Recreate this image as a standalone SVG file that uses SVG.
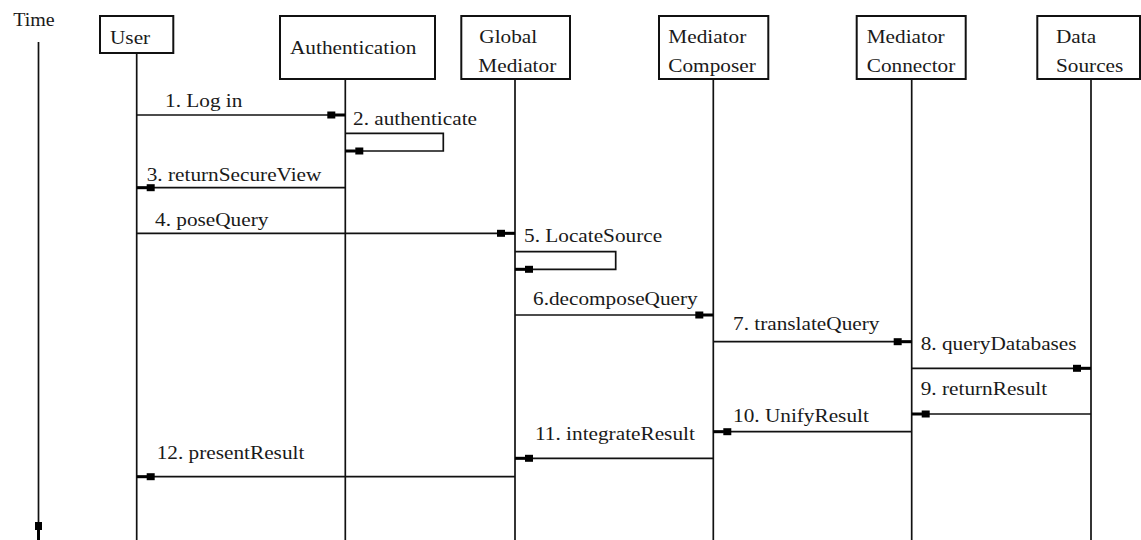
<svg xmlns="http://www.w3.org/2000/svg" width="1141" height="540" viewBox="0 0 1141 540">
  <style>
    .t { font-size: 19px; fill: #1a1a1a; }
    .box { fill: #ffffff; stroke: #111111; stroke-width: 2; }
    .life { stroke: #111111; stroke-width: 1.7; fill: none; }
    .msg { stroke: #111111; stroke-width: 1.7; fill: none; marker-end: url(#head); }
  </style>
  <defs>
    <!-- square-block arrowhead with a short thick neck -->
    <marker id="head" markerUnits="userSpaceOnUse" viewBox="-20 -5 20 10" markerWidth="20" markerHeight="10" refX="0" refY="0" orient="auto">
      <rect x="-18" y="-3.5" width="8" height="7" fill="#000000"/>
      <rect x="-10.5" y="-1.5" width="10.5" height="3" fill="#000000"/>
    </marker>
  </defs>

  <rect width="1141" height="540" fill="#ffffff"/>

  <!-- time axis -->
  <g id="time">
    <text class="t" font-family="Liberation Serif" transform="translate(13.3,26) scale(1.05,1)">Time</text>
    <line class="msg" x1="38.5" y1="42" x2="38.5" y2="540"/>
  </g>

  <!-- participants (text is widened 12% horizontally) -->
  <g id="user">
    <rect class="box" x="100" y="16" width="73.3" height="37"/>
    <line class="life" x1="136.7" y1="53" x2="136.7" y2="540"/>
    <text class="t" font-family="Liberation Serif" transform="translate(110,44.3) scale(1.12,1)">User</text>
  </g>
  <g id="authentication">
    <rect class="box" x="280" y="16" width="155" height="63"/>
    <line class="life" x1="345.3" y1="79" x2="345.3" y2="540"/>
    <text class="t" font-family="Liberation Serif" transform="translate(290,53.5) scale(1.12,1)">Authentication</text>
  </g>
  <g id="global-mediator">
    <rect class="box" x="461.3" y="16" width="108.7" height="63"/>
    <line class="life" x1="515" y1="79" x2="515" y2="540"/>
    <text class="t" font-family="Liberation Serif" transform="translate(479.3,43.3) scale(1.12,1)">Global</text>
    <text class="t" font-family="Liberation Serif" transform="translate(478.3,71.7) scale(1.12,1)">Mediator</text>
  </g>
  <g id="mediator-composer">
    <rect class="box" x="659" y="16" width="109.3" height="63"/>
    <line class="life" x1="713.3" y1="79" x2="713.3" y2="540"/>
    <text class="t" font-family="Liberation Serif" transform="translate(668.3,43.3) scale(1.12,1)">Mediator</text>
    <text class="t" font-family="Liberation Serif" transform="translate(668.3,71.7) scale(1.12,1)">Composer</text>
  </g>
  <g id="mediator-connector">
    <rect class="box" x="856.7" y="16" width="109" height="63"/>
    <line class="life" x1="911.7" y1="79" x2="911.7" y2="540"/>
    <text class="t" font-family="Liberation Serif" transform="translate(866.7,43.3) scale(1.12,1)">Mediator</text>
    <text class="t" font-family="Liberation Serif" transform="translate(866.7,71.7) scale(1.12,1)">Connector</text>
  </g>
  <g id="data-sources">
    <rect class="box" x="1037.3" y="16" width="102.7" height="63"/>
    <line class="life" x1="1091" y1="79" x2="1091" y2="540"/>
    <text class="t" font-family="Liberation Serif" transform="translate(1056,43.3) scale(1.12,1)">Data</text>
    <text class="t" font-family="Liberation Serif" transform="translate(1056,71.7) scale(1.12,1)">Sources</text>
  </g>

  <!-- messages -->
  <g id="connectors">
    <line class="msg" x1="136.7" y1="115" x2="345.3" y2="115"/>
    <path class="msg" d="M345.3,133.3 H443.3 V151 H345.3"/>
    <line class="msg" x1="345.3" y1="187.7" x2="136.7" y2="187.7"/>
    <line class="msg" x1="136.7" y1="233.3" x2="515" y2="233.3"/>
    <path class="msg" d="M515,251.7 H615.7 V269.3 H515"/>
    <line class="msg" x1="515" y1="315" x2="713.3" y2="315"/>
    <line class="msg" x1="713.3" y1="341.7" x2="911.7" y2="341.7"/>
    <line class="msg" x1="911.7" y1="368.3" x2="1091" y2="368.3"/>
    <line class="msg" x1="1091" y1="414" x2="911.7" y2="414"/>
    <line class="msg" x1="911.7" y1="431.7" x2="713.3" y2="431.7"/>
    <line class="msg" x1="713.3" y1="458.3" x2="515" y2="458.3"/>
    <line class="msg" x1="515" y1="476.7" x2="136.7" y2="476.7"/>
  </g>

  <!-- message labels -->
  <g id="labels">
    <text class="t" font-family="Liberation Serif" transform="translate(165,107.3) scale(1.12,1)">1. Log in</text>
    <text class="t" font-family="Liberation Serif" transform="translate(353,125) scale(1.12,1)">2. authenticate</text>
    <text class="t" font-family="Liberation Serif" transform="translate(146.7,180.7) scale(1.12,1)">3. returnSecureView</text>
    <text class="t" font-family="Liberation Serif" transform="translate(155,226) scale(1.12,1)">4. poseQuery</text>
    <text class="t" font-family="Liberation Serif" transform="translate(524,241.7) scale(1.12,1)">5. LocateSource</text>
    <text class="t" font-family="Liberation Serif" transform="translate(533,305) scale(1.12,1)">6.decomposeQuery</text>
    <text class="t" font-family="Liberation Serif" transform="translate(733,330) scale(1.12,1)">7. translateQuery</text>
    <text class="t" font-family="Liberation Serif" transform="translate(920.7,350) scale(1.12,1)">8. queryDatabases</text>
    <text class="t" font-family="Liberation Serif" transform="translate(920.7,395) scale(1.12,1)">9. returnResult</text>
    <text class="t" font-family="Liberation Serif" transform="translate(733,421.7) scale(1.12,1)">10. UnifyResult</text>
    <text class="t" font-family="Liberation Serif" transform="translate(535,440) scale(1.12,1)">11. integrateResult</text>
    <text class="t" font-family="Liberation Serif" transform="translate(156.7,459.3) scale(1.12,1)">12. presentResult</text>
  </g>
</svg>
